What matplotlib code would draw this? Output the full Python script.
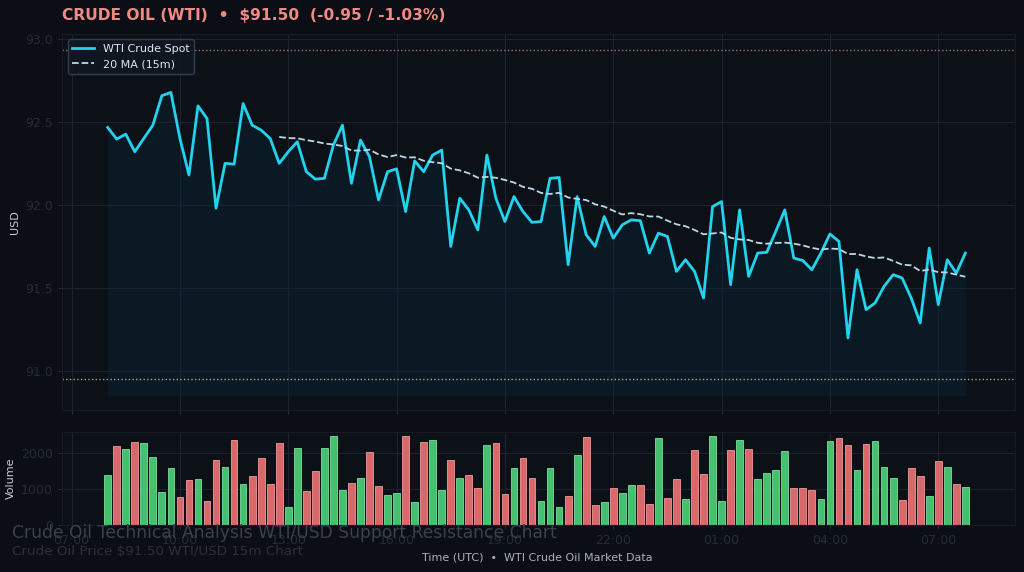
import numpy as np
import pandas as pd
import matplotlib
matplotlib.use('Agg')
import matplotlib.pyplot as plt
import matplotlib.dates as mdates

# 15 minute WTI closes (96 bars)
price = [92.466, 92.396, 92.426, 92.32, 92.40, 92.48, 92.657, 92.677, 92.40, 92.18,
         92.596, 92.52, 91.98, 92.25, 92.245, 92.61, 92.48, 92.45, 92.40, 92.25,
         92.32, 92.38, 92.20, 92.155, 92.16, 92.36, 92.48, 92.13, 92.39, 92.29,
         92.03, 92.20, 92.217, 91.96, 92.265, 92.20, 92.30, 92.33, 91.75, 92.04,
         91.97, 91.85, 92.30, 92.04, 91.90, 92.05, 91.96, 91.895, 91.90, 92.16,
         92.165, 91.64, 92.05, 91.82, 91.75, 91.93, 91.80, 91.88, 91.91, 91.905,
         91.71, 91.83, 91.81, 91.60, 91.67, 91.60, 91.44, 91.99, 92.02, 91.52,
         91.97, 91.57, 91.71, 91.715, 91.84, 91.97, 91.68, 91.665, 91.61, 91.71,
         91.825, 91.78, 91.20, 91.61, 91.37, 91.41, 91.51, 91.58, 91.56, 91.44,
         91.29, 91.74, 91.40, 91.67, 91.59, 91.71]

volume = [1381, 2182, 2100, 2302, 2284, 1878, 912, 1593, 773, 1252,
          1271, 654, 1814, 1621, 2357, 1151, 1372, 1860, 1133, 2274,
          497, 2127, 930, 1510, 2127, 2459, 967, 1160, 1307, 2017,
          1077, 829, 875, 2459, 635, 2312, 2357, 985, 1814, 1307,
          1381, 1013, 2219, 2274, 847, 1593, 1851, 1307, 663, 1575,
          506, 810, 1934, 2440, 543, 635, 1022, 875, 1096, 1096,
          571, 2403, 746, 1271, 727, 2090, 1427, 2477, 663, 2090,
          2348, 2109, 1262, 1436, 1528, 2053, 1031, 1031, 967, 718,
          2330, 2422, 2219, 1519, 2256, 2320, 1621, 1307, 691, 1575,
          1372, 801, 1768, 1602, 1133, 1050]

resistance = 92.93
support = 90.95
fill_floor = 90.85

times = pd.date_range('2024-03-11 08:00', periods=len(price), freq='15min')
df = pd.DataFrame({'price': price, 'volume': volume}, index=times)
df['ma20'] = df['price'].rolling(20).mean()
up = df['price'].diff().fillna(1) > 0

BG = '#0b0e15'
AX_BG = '#0c1017'
GRID = '#1c2330'
TICK = '#262c38'
CYAN = '#22d3ee'
GREEN = '#45c06e'
RED = '#d9686b'

fig = plt.figure(figsize=(10.24, 5.72), dpi=100, facecolor=BG)
ax = fig.add_axes([0.0605, 0.283, 0.931, 0.658])
axv = fig.add_axes([0.0605, 0.082, 0.931, 0.163], sharex=ax)

for a in (ax, axv):
    a.set_facecolor(AX_BG)
    a.grid(True, color=GRID, linewidth=0.8)
    a.set_axisbelow(True)
    for s in a.spines.values():
        s.set_color('#161b24')
    a.tick_params(colors=TICK, labelsize=9, length=3)

ax.fill_between(df.index, df['price'], fill_floor, color='#0b2636', alpha=0.45, linewidth=0)
ax.plot(df.index, df['price'], color=CYAN, linewidth=2, label='WTI Crude Spot')
ax.plot(df.index, df['ma20'], color='#bcd6e6', linewidth=1.3, linestyle='--', label='20 MA (15m)')
ax.axhline(resistance, color='#c98a8a', linewidth=1, linestyle=':', alpha=0.8)
ax.axhline(support, color='#b8d8a8', linewidth=1, linestyle=':', alpha=0.8)
ax.set_ylim(90.765, 93.03)
ax.set_yticks([91.0, 91.5, 92.0, 92.5, 93.0])
ax.set_ylabel('USD', color='#c8ccd4', fontsize=8)
plt.setp(ax.get_xticklabels(), visible=False)

leg = ax.legend(loc='upper left', fontsize=8, facecolor='#111722', edgecolor='#3a4252',
                framealpha=0.9, labelcolor='#e2e6ec')

colors = [GREEN if u else RED for u in up]
edges = ['#7fdc9c' if u else '#ef9a9a' for u in up]
axv.bar(df.index, df['volume'], width=0.75 / 96, color=colors, edgecolor=edges, linewidth=0.6)
axv.set_ylim(0, 2580)
axv.set_yticks([0, 1000, 2000])
axv.set_ylabel('Volume', color='#c8ccd4', fontsize=8)
axv.set_xlim(pd.Timestamp('2024-03-11 06:44'), pd.Timestamp('2024-03-12 09:08'))
axv.xaxis.set_major_locator(mdates.HourLocator(byhour=range(1, 24, 3)))
axv.xaxis.set_major_formatter(mdates.DateFormatter('%H:%M'))

fig.text(0.0605, 0.973, 'CRUDE OIL (WTI)  \u2022  $91.50  (-0.95 / -1.03%)', color='#f08a84',
         fontsize=11.2, fontweight='bold', va='center', ha='left')
fig.text(0.012, 0.068, 'Crude Oil Technical Analysis WTI/USD Support Resistance Chart',
         color='#3b414d', fontsize=12.3, va='center', ha='left')
fig.text(0.012, 0.035, 'Crude Oil Price $91.50 WTI/USD 15m Chart',
         color='#2b303a', fontsize=9.7, va='center', ha='left')
fig.text(0.525, 0.026, 'Time (UTC)  \u2022  WTI Crude Oil Market Data', color='#aab0ba',
         fontsize=8, va='center', ha='center')

fig.savefig('out.png', dpi=100, facecolor=BG)
